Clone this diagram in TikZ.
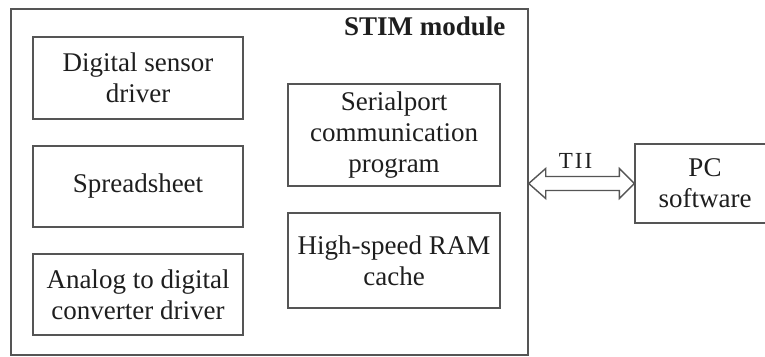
\documentclass[tikz,border=0pt]{standalone}
\usepackage{fontspec}
\setmainfont{Liberation Serif}
\usetikzlibrary{calc}
\definecolor{edge}{HTML}{555555}
\definecolor{ink}{HTML}{1E1E1E}
\begin{document}
\begin{tikzpicture}[x=1pt,y=-1pt,
  box/.style={draw=edge,line width=1.4pt,rectangle,inner sep=0pt,align=center,text=ink,
    font=\fontsize{27}{31}\selectfont},
  outerbox/.style={draw=edge,line width=1.4pt,rectangle,inner sep=0pt},
  arrowshape/.style={draw=edge,line width=1.4pt,fill=white,line join=miter}]
\useasboundingbox (0,0) rectangle (765,356);
\clip (0,0) rectangle (765,356);
\node[outerbox,minimum width=517pt,minimum height=346pt] (stim) at (269.5,182) {};
\node[anchor=base east,text=ink,font=\fontsize{27}{31}\selectfont\bfseries] (stimlabel) at (509,35.5) {STIM module};
\node[box,minimum width=210pt,minimum height=82pt] (dsd) at (138,78) {Digital sensor\\driver};
\node[box,minimum width=210pt,minimum height=81pt] (sheet) at (138,186.5) {Spreadsheet};
\node[box,minimum width=210pt,minimum height=81pt] (adc) at (138,294.5) {Analog to digital\\converter driver};
\node[box,minimum width=212pt,minimum height=102pt] (serial) at (394,135) {Serialport\\communication\\program};
\node[box,minimum width=212pt,minimum height=95pt] (ram) at (394,260.5) {High-speed RAM\\cache};
\node[box,minimum width=140pt,minimum height=79pt] (pc) at (705,183.5) {PC\\software};
\coordinate (la) at (stim.east |- pc.west);
\coordinate (ra) at (pc.west);
\draw[arrowshape] (la) -- ($(la)+(17,-15)$) -- ($(la)+(17,-7)$) -- ($(ra)+(-15,-7)$) -- ($(ra)+(-15,-15)$)
  -- (ra) -- ($(ra)+(-15,15)$) -- ($(ra)+(-15,7)$) -- ($(la)+(17,7)$) -- ($(la)+(17,15)$) -- cycle;
\node[text=ink,font=\fontsize{23}{26}\selectfont,anchor=base] (tii) at (575.5,168) {T\kern2pt I\kern2pt I};
\end{tikzpicture}
\end{document}
